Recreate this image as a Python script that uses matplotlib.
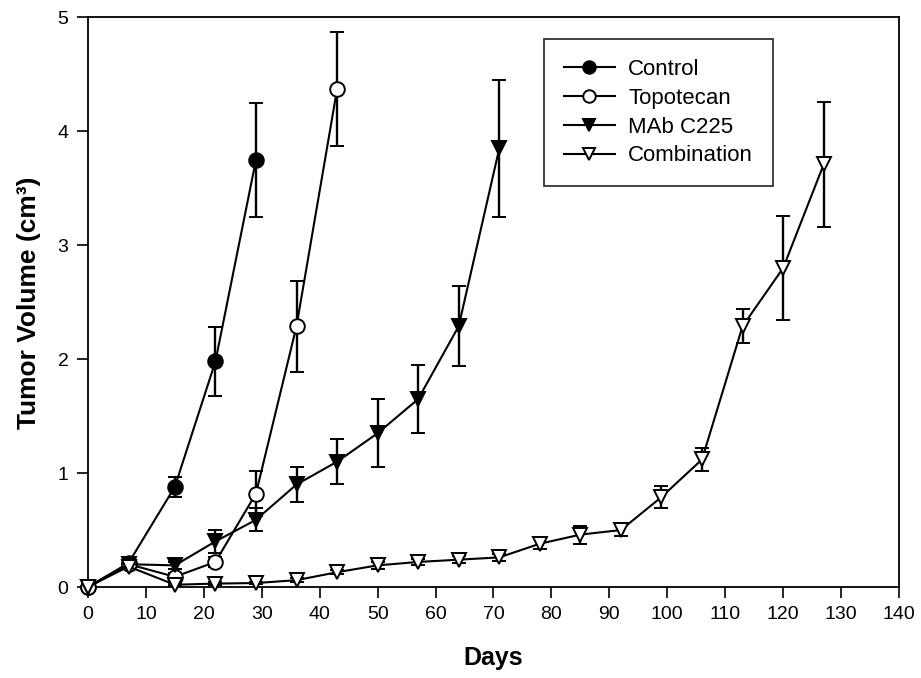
import matplotlib
matplotlib.use("Agg")
import matplotlib.pyplot as plt
from matplotlib.lines import Line2D

plt.rcParams['font.family'] = ['Liberation Sans', 'DejaVu Sans']

# Days of measurement and tumor volume (cm^3) with error bars
control_days = [0, 7, 15, 22, 29]
control_vol = [0.0, 0.21, 0.88, 1.98, 3.75]
control_err = [0.0, 0.02, 0.09, 0.30, 0.50]

topo_days = [0, 7, 15, 22, 29, 36, 43]
topo_vol = [0.0, 0.20, 0.09, 0.22, 0.82, 2.29, 4.37]
topo_err = [0.0, 0.02, 0.03, 0.04, 0.20, 0.40, 0.50]

mab_days = [0, 7, 15, 22, 29, 36, 43, 50, 57, 64, 71]
mab_vol = [0.0, 0.20, 0.19, 0.40, 0.59, 0.90, 1.10, 1.35, 1.65, 2.29, 3.85]
mab_err = [0.0, 0.02, 0.03, 0.10, 0.10, 0.15, 0.20, 0.30, 0.30, 0.35, 0.60]

comb_days = [0, 7, 15, 22, 29, 36, 43, 50, 57, 64, 71, 78, 85, 92, 99, 106, 113, 120, 127]
comb_vol = [0.0, 0.18, 0.02, 0.03, 0.035, 0.06, 0.13, 0.19, 0.22, 0.24, 0.26, 0.38,
            0.46, 0.50, 0.79, 1.12, 2.29, 2.80, 3.71]
comb_err = [0.0, 0.02, 0.01, 0.01, 0.01, 0.02, 0.02, 0.03, 0.03, 0.03, 0.03, 0.05,
            0.08, 0.05, 0.10, 0.10, 0.15, 0.46, 0.55]

fig = plt.figure(figsize=(9.21, 6.78), dpi=100)
ax = fig.add_axes([0.0955, 0.1342, 0.8806, 0.8400])

series = [
    (control_days, control_vol, control_err, 'o', 'black', 'Control'),
    (topo_days, topo_vol, topo_err, 'o', 'white', 'Topotecan'),
    (mab_days, mab_vol, mab_err, 'v', 'black', 'MAb C225'),
    (comb_days, comb_vol, comb_err, 'v', 'white', 'Combination'),
]

handles = []
for days, vol, err, mk, face, lab in series:
    ax.errorbar(days, vol, yerr=err, fmt='-' + mk, color='black', mfc=face,
                mec='black', mew=1.4, ms=10.5, lw=1.5, elinewidth=1.7,
                capsize=5, capthick=1.7, clip_on=False, zorder=3)
    handles.append(Line2D([], [], color='black', lw=1.5, marker=mk, mfc=face,
                          mec='black', mew=1.4, ms=9, label=lab))

ax.set_xlim(0, 140)
ax.set_ylim(0, 5)
ax.set_xticks(range(0, 141, 10))
ax.set_yticks(range(0, 6))
ax.tick_params(direction='out', length=8, width=1.2, labelsize=14, pad=6)
for s in ax.spines.values():
    s.set_linewidth(1.3)

ax.set_xlabel('Days', fontsize=18, fontweight='bold', labelpad=16)
ax.set_ylabel('Tumor Volume (cm³)', fontsize=19, fontweight='bold', labelpad=12)

leg = ax.legend(handles=handles, loc='upper left', bbox_to_anchor=(0.562, 0.962),
                borderaxespad=0, fontsize=16, frameon=True, fancybox=False,
                edgecolor='black', handlelength=2.3, handletextpad=0.6,
                labelspacing=0.35, borderpad=0.9)
leg.get_frame().set_linewidth(1.3)

fig.savefig('out.png', dpi=100)
